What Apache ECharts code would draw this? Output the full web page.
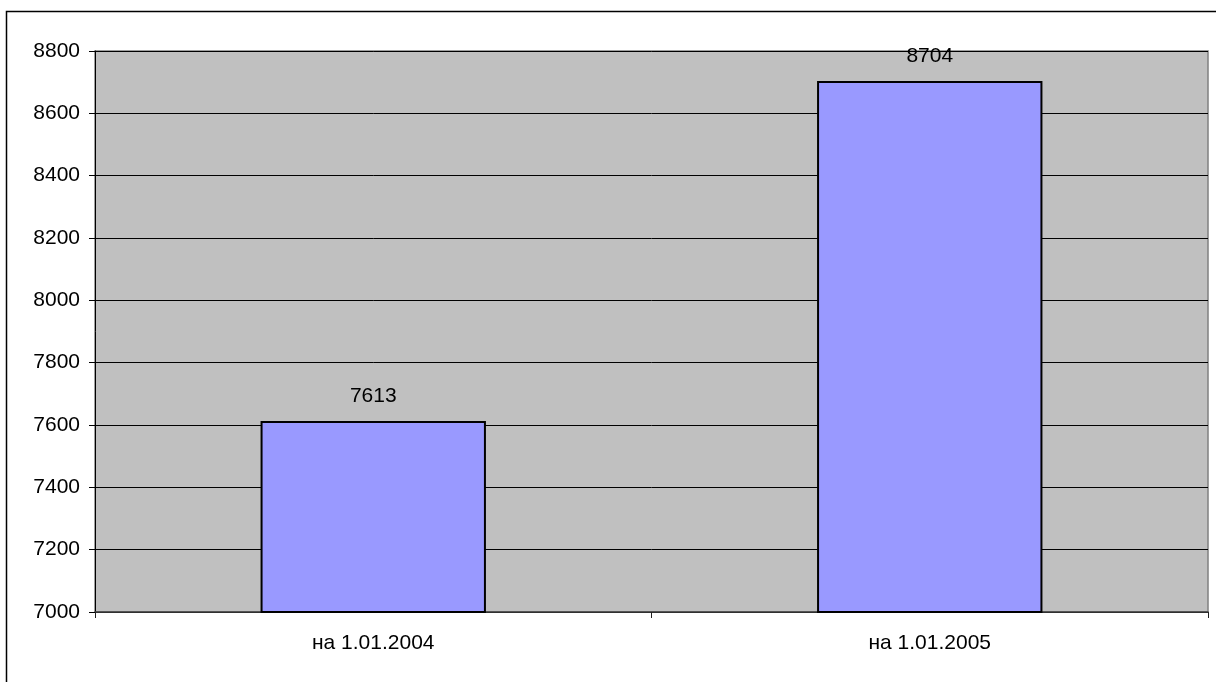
<!DOCTYPE html>
<html>
<head>
<meta charset="utf-8">
<script src="https://cdn.jsdelivr.net/npm/echarts@6/dist/echarts.min.js"></script>
<style>
html,body{margin:0;padding:0;background:#fff;}
#c{width:1216px;height:682px;}
</style>
</head>
<body>
<div id="c"></div>
<script>
const categories = ['на 1.01.2004', 'на 1.01.2005'];
const values = [7613, 8704];
const yMin = 7000, yMax = 8800, yStep = 200;

const chart = echarts.init(document.getElementById('c'), null, {renderer: 'canvas'});
const font = 'Liberation Sans, Arial, sans-serif';
const fs = 21;
chart.setOption({
  animation: false,
  backgroundColor: '#ffffff',
  graphic: [{
    type: 'rect', z: -10,
    shape: {x: 6.5, y: 11.5, width: 1400, height: 900},
    style: {fill: 'none', stroke: '#000', lineWidth: 1.5}
  }],
  grid: {
    left: 95, top: 51, right: 8, bottom: 70,
    show: true, backgroundColor: '#c0c0c0', borderColor: '#808080', borderWidth: 1.5
  },
  xAxis: {
    type: 'category',
    data: categories,
    axisLine: {show: true, lineStyle: {color: '#404040', width: 1.5}},
    axisTick: {show: true, length: 6, alignWithLabel: false, lineStyle: {color: '#202020', width: 1}},
    axisLabel: {color: '#000', fontFamily: font, fontSize: fs, margin: 21},
    splitLine: {show: false}
  },
  yAxis: {
    type: 'value',
    min: yMin, max: yMax, interval: yStep,
    axisLine: {show: true, lineStyle: {color: '#000', width: 1}},
    axisTick: {show: true, length: 6, lineStyle: {color: '#000', width: 1}},
    axisLabel: {color: '#000', fontFamily: font, fontSize: fs, margin: 15, formatter: v => String(v)},
    splitLine: {show: true, lineStyle: {color: '#000', width: 1}}
  },
  series: [{
    type: 'bar',
    data: values,
    barWidth: '40.5%',
    itemStyle: {color: '#9999ff', borderColor: '#000', borderWidth: 2},
    label: {show: true, position: 'top', distance: 14, color: '#000', fontFamily: font, fontSize: fs}
  }]
});
</script>
</body>
</html>
